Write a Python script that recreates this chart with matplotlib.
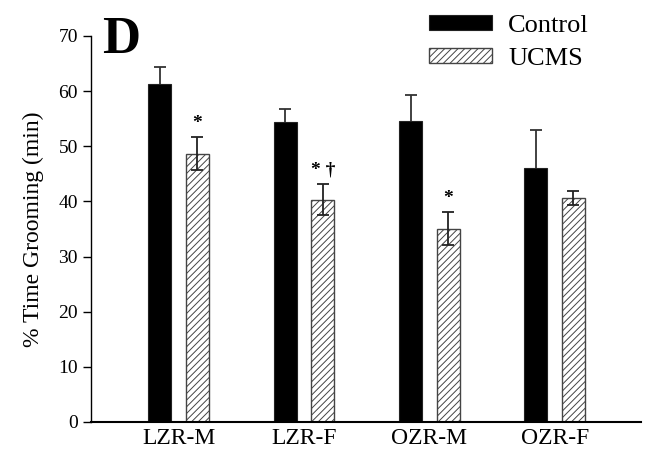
import numpy as np
import matplotlib.pyplot as plt

groups = ['LZR-M', 'LZR-F', 'OZR-M', 'OZR-F']
control = [61.2, 54.4, 54.6, 46.1]
control_err = [3.2, 2.4, 4.7, 6.8]
ucms = [48.6, 40.3, 35.0, 40.6]
ucms_err = [3.0, 2.8, 3.0, 1.2]
marks = ['*', '* \u2020', '*', '']

plt.rcParams['font.family'] = ['Liberation Serif', 'DejaVu Serif']
plt.rcParams['hatch.linewidth'] = 0.7
plt.rcParams['hatch.color'] = '#333333'

fig = plt.figure(figsize=(6.45, 4.54), dpi=100)
ax = fig.add_axes([0.141, 0.0705, 0.853, 0.8505])

x = np.arange(len(groups))
w = 0.184
off = 0.15

ax.bar(x - off, control, w, color='black', edgecolor='#222222', linewidth=0.8,
       zorder=2, label='Control')
ax.errorbar(x - off, control, yerr=control_err, fmt='none', ecolor='#333333',
            elinewidth=1.3, capsize=4, capthick=1.3, zorder=1)

ax.bar(x + off, ucms, w, color='white', edgecolor='#444444', linewidth=1.0,
       hatch='/////', zorder=2, label='UCMS')
ax.errorbar(x + off, ucms, yerr=ucms_err, fmt='none', ecolor='#222222',
            elinewidth=1.3, capsize=4, capthick=1.3, zorder=3)

for i, m in enumerate(marks):
    if m:
        ax.text(x[i] + off, ucms[i] + ucms_err[i] + 2.5, m, ha='center', va='center',
                fontsize=14, fontweight='bold')

ax.set_xlim(-0.70, 3.69)
ax.set_ylim(0, 70)
ax.set_yticks(range(0, 71, 10))
ax.set_xticks(x)
ax.set_xticklabels(groups, fontsize=17)
ax.tick_params(axis='x', length=0, pad=4)
ax.tick_params(axis='y', labelsize=14, length=6, width=1, direction='out')
ax.spines['top'].set_visible(False)
ax.spines['right'].set_visible(False)
ax.spines['left'].set_linewidth(1.0)
ax.spines['bottom'].set_linewidth(1.5)
ax.set_ylabel('% Time Grooming (min)', fontsize=17, labelpad=10)

fig.text(0.158, 0.965, 'D', fontsize=38, fontweight='bold', va='top', ha='left')

ax.legend(loc='upper left', bbox_to_anchor=(0.571, 1.115), frameon=False, fontsize=19,
          handlelength=2.4, handleheight=0.5, labelspacing=0.4, handletextpad=0.6)

fig.savefig('out.png', dpi=100)
